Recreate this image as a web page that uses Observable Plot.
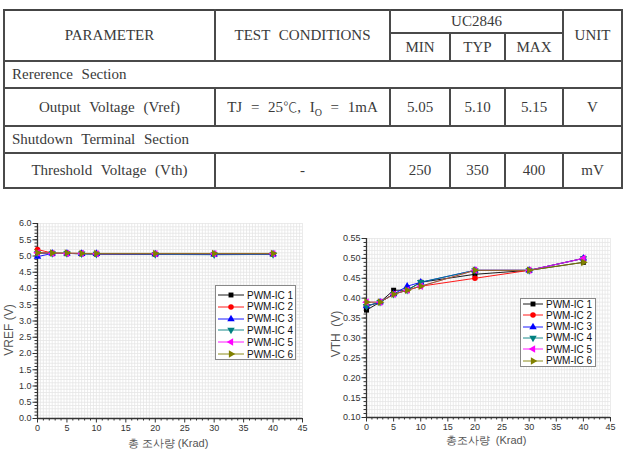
<!DOCTYPE html>
<html><head><meta charset="utf-8">
<script src="https://cdn.jsdelivr.net/npm/d3@7"></script>
<script src="https://cdn.jsdelivr.net/npm/@observablehq/plot@0.6"></script>
<style>
html,body{margin:0;padding:0;background:#fff}
body{width:625px;height:462px;position:relative;overflow:hidden;font-family:"Liberation Sans",Arial,sans-serif}
#tbl{position:absolute;left:3px;top:9px;border-collapse:collapse;font-family:"Liberation Serif",serif;font-size:15px;color:#3a3a3a;word-spacing:5px;table-layout:fixed}
#tbl td{border:2px solid #4a4a4a;text-align:center;padding:0;white-space:nowrap}
#tbl tr:first-child td{border-top:2.5px solid #444}
#tbl td.sec{text-align:left;padding-left:7px}
.deg{font-family:"Noto Sans CJK KR",sans-serif;font-weight:300;font-size:14px}
.chart{position:absolute}
.lab{position:absolute;color:#555;font-size:11px;white-space:nowrap}
.ylab{position:absolute;color:#555;font-size:12px;white-space:nowrap;transform:translate(-50%,-50%) rotate(-90deg)}
.legend{position:absolute;border:1px solid #888;background:#fff;font-size:10px;color:#111}
.legend .row{position:absolute;left:0;height:12px;display:flex;align-items:center}
</style>
</head><body>
<table id="tbl">
<colgroup><col style="width:211px"><col style="width:175px"><col style="width:60px"><col style="width:55px"><col style="width:58px"><col style="width:59px"></colgroup>
<tr style="height:23px"><td rowspan="2">PARAMETER</td><td rowspan="2">TEST CONDITIONS</td><td colspan="3">UC2846</td><td rowspan="2">UNIT</td></tr>
<tr style="height:28px"><td>MIN</td><td>TYP</td><td>MAX</td></tr>
<tr style="height:27px"><td class="sec" colspan="6">Rererence Section</td></tr>
<tr style="height:38px"><td>Output Voltage (Vref)</td><td>TJ = 25<span class="deg">℃</span>, I<sub style="font-size:10px">O</sub> = 1mA</td><td>5.05</td><td>5.10</td><td>5.15</td><td>V</td></tr>
<tr style="height:27px"><td class="sec" colspan="6">Shutdown Terminal Section</td></tr>
<tr style="height:35px"><td>Threshold Voltage (Vth)</td><td>-</td><td>250</td><td>350</td><td>400</td><td>mV</td></tr>
</table>
<div id="c1" class="chart" style="left:0;top:205px"></div>
<div id="c2" class="chart" style="left:310px;top:220px"></div>
<div class="lab" style="left:168px;top:443px;transform:translate(-50%,-50%)">총 조사량 (Krad)</div>
<div class="lab" style="left:486px;top:440px;transform:translate(-50%,-50%)">총조사량 &nbsp;(Krad)</div>
<div class="ylab" style="left:9px;top:330px">VREF (V)</div>
<div class="ylab" style="left:336px;top:334px">VTH &nbsp;(V)</div>
<div id="lg1" class="legend" style="left:215px;top:285px;width:79px;height:73px"></div>
<div id="lg2" class="legend" style="left:520px;top:298px;width:74px;height:67px"></div>
<script>
// ---- data ----
const doses = [0, 2.5, 5, 7.5, 10, 20, 30, 40];
const seriesNames = ["PWM-IC 1", "PWM-IC 2", "PWM-IC 3", "PWM-IC 4", "PWM-IC 5", "PWM-IC 6"];
const seriesColors = ["#000000", "#ff0000", "#0000ff", "#008080", "#ff00ff", "#808000"];

const vrefIC1 = [5.10, 5.08, 5.08, 5.07, 5.06, 5.05, 5.05, 5.05];
const vrefIC2 = [5.20, 5.09, 5.08, 5.08, 5.07, 5.06, 5.06, 5.07];
const vrefIC3 = [4.98, 5.08, 5.08, 5.07, 5.07, 5.06, 5.05, 5.06];
const vrefIC4 = [5.08, 5.08, 5.08, 5.07, 5.06, 5.05, 5.04, 5.05];
const vrefIC5 = [5.10, 5.08, 5.08, 5.08, 5.07, 5.07, 5.07, 5.07];
const vrefIC6 = [5.10, 5.09, 5.09, 5.08, 5.08, 5.08, 5.08, 5.08];

const vthIC1 = [0.37, 0.39, 0.42, 0.42, 0.44, 0.46, 0.47, 0.49];
const vthIC2 = [0.38, 0.39, 0.41, 0.42, 0.43, 0.45, 0.47, 0.50];
const vthIC3 = [0.38, 0.39, 0.41, 0.43, 0.44, 0.47, 0.47, 0.50];
const vthIC4 = [0.38, 0.39, 0.41, 0.42, 0.44, 0.47, 0.47, 0.50];
const vthIC5 = [0.39, 0.39, 0.41, 0.42, 0.43, 0.47, 0.47, 0.50];
const vthIC6 = [0.39, 0.39, 0.41, 0.42, 0.43, 0.47, 0.47, 0.49];

const xTicks = [0, 5, 10, 15, 20, 25, 30, 35, 40, 45];
const vrefTicks = [0, 0.5, 1, 1.5, 2, 2.5, 3, 3.5, 4, 4.5, 5, 5.5, 6];
const vthTicks = [0.10, 0.15, 0.20, 0.25, 0.30, 0.35, 0.40, 0.45, 0.50, 0.55];

// ---- symbols ----
function rotated(base, angle) {
  const c = Math.cos(angle), s = Math.sin(angle);
  return {draw(ctx, size) {
    const proxy = {
      moveTo: (x, y) => ctx.moveTo(x * c - y * s, x * s + y * c),
      lineTo: (x, y) => ctx.lineTo(x * c - y * s, x * s + y * c),
      closePath: () => ctx.closePath()
    };
    base.draw(proxy, size);
  }};
}
const seriesSymbols = [d3.symbolSquare, d3.symbolCircle, d3.symbolTriangle,
  rotated(d3.symbolTriangle, Math.PI), rotated(d3.symbolTriangle, -Math.PI / 2), rotated(d3.symbolTriangle, Math.PI / 2)];

function rows(arrs) {
  const out = [];
  arrs.forEach((a, i) => a.forEach((v, j) => out.push({series: seriesNames[i], dose: doses[j], v})));
  return out;
}
const vrefData = rows([vrefIC1, vrefIC2, vrefIC3, vrefIC4, vrefIC5, vrefIC6]);
const vthData = rows([vthIC1, vthIC2, vthIC3, vthIC4, vthIC5, vthIC6]);

function chart({data, yDomain, yTicks, yMinorStep, yGridStep, fmt, width, height, ml, mr, mt, mb}) {
  const xGrid = d3.range(0, 45.01, 0.5);
  const yGrid = d3.range(0, Math.round((yDomain[1] - yDomain[0]) / yGridStep) + 1).map(i => yDomain[0] + i * yGridStep);
  const xMinor = d3.range(0, 46, 1).filter(v => v % 5 !== 0);
  const yMinor = d3.range(0, Math.round((yDomain[1] - yDomain[0]) / yMinorStep) + 1).map(i => yDomain[0] + i * yMinorStep);
  const marks = [
    Plot.gridX(xGrid, {stroke: "#e6e6e6", strokeOpacity: 1, strokeWidth: 0.8}),
    Plot.gridY(yGrid, {stroke: "#e6e6e6", strokeOpacity: 1, strokeWidth: 0.8}),
    Plot.axisX(xMinor, {tickSize: 2.5, text: null, stroke: "#333"}),
    Plot.axisX(xTicks, {tickSize: 4.5, tickPadding: 2, stroke: "#333", fill: "#333", tickFormat: d => String(d)}),
    Plot.axisY(yMinor, {tickSize: 2.5, text: null, stroke: "#333"}),
    Plot.axisY(yTicks, {tickSize: 4.5, tickPadding: 1.5, stroke: "#333", fill: "#333", tickFormat: fmt}),
    Plot.ruleX([0], {stroke: "#333", strokeWidth: 1.3}),
    Plot.ruleY([yDomain[0]], {stroke: "#333", strokeWidth: 1.3})
  ];
  seriesNames.forEach((name, i) => {
    marks.push(Plot.line(data.filter(d => d.series === name), {x: "dose", y: "v", stroke: seriesColors[i], strokeWidth: 0.9}));
  });
  seriesNames.forEach((name, i) => {
    marks.push(Plot.dot(data.filter(d => d.series === name), {x: "dose", y: "v", symbol: seriesSymbols[i], fill: seriesColors[i], stroke: "none", r: 2.8}));
  });
  return Plot.plot({
    width, height, marginLeft: ml, marginRight: mr, marginTop: mt, marginBottom: mb,
    style: {fontFamily: "Liberation Sans, Arial, sans-serif", fontSize: "9px", color: "#333", background: "transparent"},
    x: {domain: [0, 45], label: null, axis: null},
    y: {domain: yDomain, label: null, axis: null},
    marks
  });
}

document.getElementById("c1").append(chart({data: vrefData, yDomain: [0, 6], yTicks: vrefTicks, yMinorStep: 0.1, yGridStep: 0.1,
  fmt: d3.format(".1f"), width: 310, height: 257, ml: 37, mr: 8, mt: 18, mb: 44}));
document.getElementById("c2").append(chart({data: vthData, yDomain: [0.10, 0.55], yTicks: vthTicks, yMinorStep: 0.01, yGridStep: 0.01,
  fmt: d3.format(".2f"), width: 315, height: 242, ml: 56, mr: 15, mt: 18, mb: 45}));

function legend(el, {spacing, top, lineW}) {
  seriesNames.forEach((name, i) => {
    const row = document.createElement("div");
    row.className = "row";
    row.style.top = (top + i * spacing - 6) + "px";
    const svg = d3.create("svg").attr("width", lineW + 4).attr("height", 12);
    svg.append("line").attr("x1", 2).attr("x2", lineW + 2).attr("y1", 6).attr("y2", 6).attr("stroke", seriesColors[i]).attr("stroke-width", 0.9);
    svg.append("path").attr("d", d3.symbol().type(seriesSymbols[i]).size(24)()).attr("transform", `translate(${lineW / 2 + 2},6)`).attr("fill", seriesColors[i]);
    row.append(svg.node());
    const t = document.createElement("span");
    t.textContent = name;
    t.style.marginLeft = "1px";
    row.append(t);
    el.append(row);
  });
}
legend(document.getElementById("lg1"), {spacing: 11.8, top: 9, lineW: 26});
legend(document.getElementById("lg2"), {spacing: 11.3, top: 5, lineW: 20});
</script>
</body></html>
